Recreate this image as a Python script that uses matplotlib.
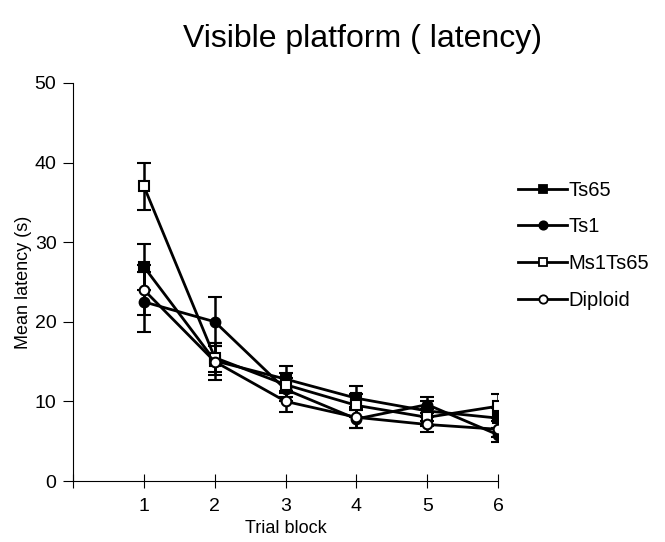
import matplotlib
matplotlib.use("Agg")
import matplotlib.pyplot as plt
from matplotlib.lines import Line2D

plt.rcParams["font.family"] = ["Liberation Sans", "DejaVu Sans"]

# -----------------------------
# Data
# -----------------------------
blocks = [1, 2, 3, 4, 5, 6]

ts65 = [26.9, 15.1, 12.8, 10.4, 8.8, 7.9]
ts65_err = [2.9, 1.8, 1.7, 1.5, 1.2, 1.3]

ts1 = [22.5, 20.0, 11.5, 7.8, 9.6, 5.8]
ts1_err = [3.8, 3.1, 1.5, 1.2, 1.0, 0.9]

ms1ts65 = [37.0, 15.5, 12.1, 9.5, 8.0, 9.4]
ms1ts65_err = [2.9, 1.8, 1.5, 1.4, 1.1, 1.5]

diploid = [24.0, 15.0, 10.0, 8.0, 7.1, 6.5]
diploid_err = [3.1, 2.3, 1.3, 1.3, 0.9, 1.0]

series = [
    ("Ts65", ts65, ts65_err, "s", "black"),
    ("Ts1", ts1, ts1_err, "o", "black"),
    ("Ms1Ts65", ms1ts65, ms1ts65_err, "s", "white"),
    ("Diploid", diploid, diploid_err, "o", "white"),
]

# -----------------------------
# Plot
# -----------------------------
fig = plt.figure(figsize=(6.65, 5.42), dpi=100)
ax = fig.add_axes([0.110, 0.1125, 0.639, 0.7345])

handles = []
for label, vals, errs, marker, face in series:
    ax.errorbar(
        blocks, vals, yerr=errs,
        color="black", linewidth=2.0, elinewidth=1.8,
        capsize=5, capthick=1.8,
        marker=marker, markersize=7, markerfacecolor=face,
        markeredgecolor="black", markeredgewidth=1.5,
    )
    handles.append(Line2D([], [], color="black", linewidth=2.0, marker=marker,
                          markersize=6, markerfacecolor=face,
                          markeredgecolor="black", markeredgewidth=1.3,
                          label=label))

ax.set_xlim(0, 6)
ax.set_ylim(0, 50)
ax.set_xticks([0, 1, 2, 3, 4, 5, 6])
ax.set_xticklabels(["", "1", "2", "3", "4", "5", "6"])
ax.set_yticks([0, 10, 20, 30, 40, 50])

for side in ["top", "right"]:
    ax.spines[side].set_visible(False)
ax.spines["left"].set_linewidth(0.8)
ax.spines["bottom"].set_linewidth(0.8)

ax.tick_params(axis="y", direction="out", length=7, width=0.8, labelsize=14, pad=5)
ax.tick_params(axis="x", direction="inout", length=10, width=0.8, labelsize=14, pad=7)

ax.set_xlabel("Trial block", fontsize=13, labelpad=4)
ax.set_ylabel("Mean latency (s)", fontsize=13, labelpad=2)

fig.suptitle("Visible platform ( latency)", fontsize=23, x=0.545, y=0.955)

ax.legend(
    handles=handles,
    loc="upper left", bbox_to_anchor=(1.005, 0.80),
    frameon=False, fontsize=14.5, handlelength=2.4,
    handletextpad=0.1, labelspacing=0.88,
)

fig.savefig("out.png", dpi=100)
